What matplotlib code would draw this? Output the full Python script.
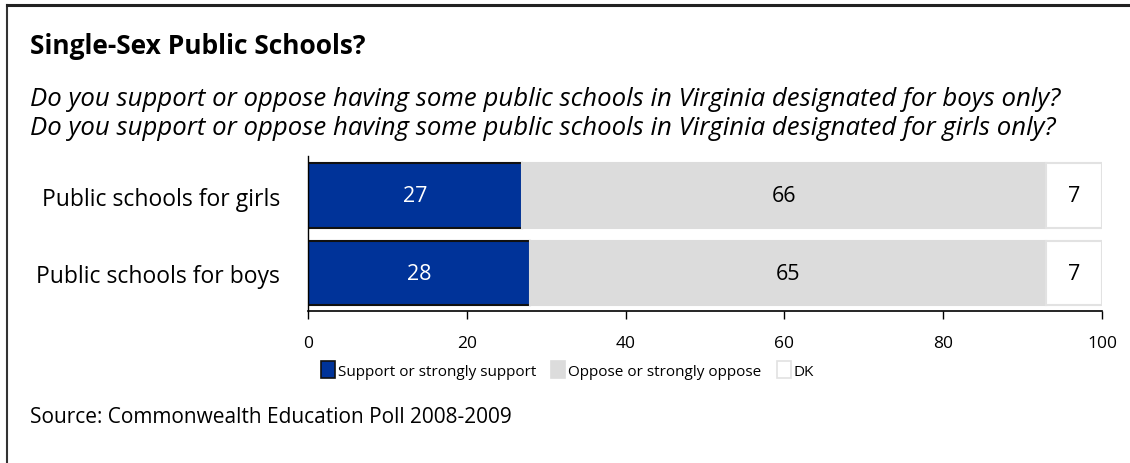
import matplotlib.pyplot as plt
from matplotlib.patches import Patch

plt.rcParams['font.family'] = ['Open Sans', 'DejaVu Sans']

# 数据
categories = ['Public schools for girls', 'Public schools for boys']
support = [27, 28]
oppose = [66, 65]
dk = [7, 7]
series_names = ['Support or strongly support', 'Oppose or strongly oppose', 'DK']
xticks = [0, 20, 40, 60, 80, 100]

colors = ['#003399', '#DCDCDC', '#FFFFFF']
edges = ['#111111', '#DCDCDC', '#E2E2E2']
text_colors = ['white', 'black', 'black']

fig = plt.figure(figsize=(11.3, 4.64), dpi=100)

# 外框（左、上）
fig.add_artist(plt.Line2D([7 / 1130, 7 / 1130], [0, 1 - 6 / 464], color='#333333', lw=1.5))
fig.add_artist(plt.Line2D([7 / 1130, 1], [1 - 6 / 464, 1 - 6 / 464], color='#222222', lw=2.2))

fig.text(30 / 1130, 1 - 47 / 464, 'Single-Sex Public Schools?', fontsize=19,
         fontweight='bold', va='center', ha='left')
fig.text(30 / 1130, 1 - 100 / 464,
         'Do you support or oppose having some public schools in Virginia designated for boys only?',
         fontsize=18.5, style='italic', va='center', ha='left')
fig.text(30 / 1130, 1 - 129 / 464,
         'Do you support or oppose having some public schools in Virginia designated for girls only?',
         fontsize=18.5, style='italic', va='center', ha='left')
fig.text(30 / 1130, 1 - 418 / 464, 'Source: Commonwealth Education Poll 2008-2009',
         fontsize=15, va='center', ha='left')

ax = fig.add_axes([308 / 1130, 1 - 312 / 464, 794 / 1130, 155 / 464])

y = [0, 1]
left = [0, 0]
for vals, c, ec, tc in zip([support, oppose, dk], colors, edges, text_colors):
    bars = ax.barh(y, vals, left=left, height=0.83, color=c, edgecolor=ec, linewidth=1.5)
    for b, v in zip(bars, vals):
        ax.text(b.get_x() + b.get_width() / 2, b.get_y() + b.get_height() / 2, str(v),
                ha='center', va='center', color=tc, fontsize=15.5)
    left = [l + v for l, v in zip(left, vals)]

ax.set_xlim(0, 100)
ax.set_ylim(1.49, -0.51)
ax.set_yticks(y)
ax.set_yticklabels(categories, fontsize=16.5)
ax.tick_params(axis='y', length=0, pad=20)
ax.set_xticks(xticks)
ax.tick_params(axis='x', length=6, width=1, labelsize=12.5, pad=11)
for s in ['top', 'right']:
    ax.spines[s].set_visible(False)
ax.spines['left'].set_linewidth(1)
ax.spines['bottom'].set_linewidth(1.2)

handles = [Patch(facecolor=c, edgecolor=ec, linewidth=1.2) for c, ec in zip(colors, edges)]
fig.legend(handles, series_names, loc='center left', bbox_to_anchor=(321 / 1130, 1 - 371 / 464),
           ncol=3, frameon=False, fontsize=11, handlelength=0.9, handleheight=1.3,
           handletextpad=0.2, columnspacing=1.0, borderaxespad=0, borderpad=0)

fig.savefig('out.png', dpi=100)
